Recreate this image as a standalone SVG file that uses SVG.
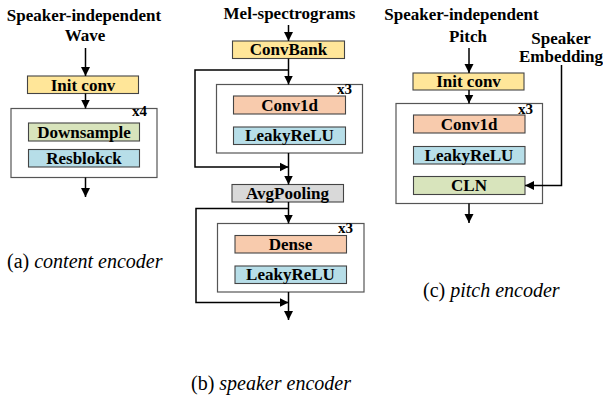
<svg xmlns="http://www.w3.org/2000/svg" width="603" height="398" viewBox="0 0 603 398">
<defs>
<marker id="ah" markerUnits="userSpaceOnUse" markerWidth="10" markerHeight="10" viewBox="0 0 10 10" refX="9" refY="5" orient="auto">
<path d="M0,0.5 L9,5 L0,9.5 Z" fill="#000"/>
</marker>
<style>
.t{font-family:"Liberation Serif","Times New Roman",serif;font-weight:bold;font-size:17px;fill:#000;text-anchor:middle}
.x{font-family:"Liberation Serif","Times New Roman",serif;font-weight:bold;font-size:15px;fill:#000}
.cap{font-family:"Liberation Serif","Times New Roman",serif;font-size:20px;fill:#000}
.cap tspan.i{font-style:italic}
.outer{fill:#fff;stroke:#555;stroke-width:1.2}
.b{stroke:#444;stroke-width:1.1}
.yel{fill:#FFE699}
.grn{fill:#D8E4BC}
.blu{fill:#B7DEE8}
.pch{fill:#F8CBAD}
.gry{fill:#D9D9D9}
.c{fill:none;stroke:#000;stroke-width:1.5}
.a{marker-end:url(#ah)}
</style>
</defs>

<!-- Panel (a) -->
<g id="a-input">
<text class="t" x="84" y="21">Speaker-independent</text>
<text class="t" x="85" y="41">Wave</text>
</g>
<g id="a-initconv">
<rect class="b yel" x="27.5" y="76" width="111" height="17.5"/>
<text class="t" x="83" y="90.5">Init conv</text>
</g>
<g id="a-block">
<rect class="outer" x="11" y="108.5" width="146" height="69"/>
<text class="x" x="132" y="116">x4</text>
</g>
<g id="a-downsample">
<rect class="b grn" x="28.5" y="123" width="111" height="18"/>
<text class="t" x="84" y="137.5">Downsample</text>
</g>
<g id="a-resblock">
<rect class="b blu" x="28.5" y="149.5" width="111" height="17.5"/>
<text class="t" x="84" y="164">Resblokck</text>
</g>
<text class="cap" x="7" y="268">(a) <tspan class="i">content encoder</tspan></text>

<!-- Panel (b) -->
<g id="b-input">
<text class="t" x="289.5" y="18.5">Mel-spectrograms</text>
</g>
<g id="b-convbank">
<rect class="b yel" x="232.5" y="41" width="112" height="17.5"/>
<text class="t" x="288.5" y="55">ConvBank</text>
</g>
<g id="b-block1">
<rect class="outer" x="216.5" y="84.5" width="146" height="68.5"/>
<text class="x" x="337" y="94">x3</text>
</g>
<g id="b-conv1d">
<rect class="b pch" x="233.5" y="96" width="112" height="18"/>
<text class="t" x="289.5" y="110.5">Conv1d</text>
</g>
<g id="b-leaky1">
<rect class="b blu" x="233.5" y="127" width="112" height="17.5"/>
<text class="t" x="289.5" y="141">LeakyReLU</text>
</g>
<g id="b-avgpool">
<rect class="b gry" x="232" y="184.5" width="111.5" height="17.5"/>
<text class="t" x="287.5" y="198.5">AvgPooling</text>
</g>
<g id="b-block2">
<rect class="outer" x="217.5" y="223.5" width="146.5" height="68.5"/>
<text class="x" x="338" y="233">x3</text>
</g>
<g id="b-dense">
<rect class="b pch" x="235" y="235.5" width="111.5" height="17.5"/>
<text class="t" x="290.5" y="249.5">Dense</text>
</g>
<g id="b-leaky2">
<rect class="b blu" x="235" y="266" width="111.5" height="17.5"/>
<text class="t" x="290.5" y="280">LeakyReLU</text>
</g>
<text class="cap" x="191" y="390">(b) <tspan class="i">speaker encoder</tspan></text>

<!-- Panel (c) -->
<g id="c-input">
<text class="t" x="461.5" y="20">Speaker-independent</text>
<text class="t" x="468" y="42">Pitch</text>
</g>
<g id="c-embedding">
<text class="t" x="561" y="44">Speaker</text>
<text class="t" x="561" y="62">Embedding</text>
</g>
<g id="c-initconv">
<rect class="b yel" x="413" y="73" width="111" height="17"/>
<text class="t" x="468.5" y="87">Init conv</text>
</g>
<g id="c-block">
<rect class="outer" x="396" y="103.5" width="146.5" height="100"/>
<text class="x" x="518" y="114">x3</text>
</g>
<g id="c-conv1d">
<rect class="b pch" x="413.5" y="115" width="111.5" height="18"/>
<text class="t" x="469" y="129.5">Conv1d</text>
</g>
<g id="c-leaky">
<rect class="b blu" x="413.5" y="146.5" width="111.5" height="17.5"/>
<text class="t" x="469" y="160.5">LeakyReLU</text>
</g>
<g id="c-cln">
<rect class="b grn" x="413.5" y="176.5" width="111.5" height="18"/>
<text class="t" x="469" y="191">CLN</text>
</g>
<text class="cap" x="423" y="297">(c) <tspan class="i">pitch encoder</tspan></text>

<!-- Connectors -->
<g id="connectors">
<line class="c a" x1="85.5" y1="48" x2="85.5" y2="76"/>
<line class="c a" x1="85.5" y1="93.5" x2="85.5" y2="108.5"/>
<line class="c a" x1="85.5" y1="177.5" x2="85.5" y2="197"/>

<line class="c a" x1="288.5" y1="25" x2="288.5" y2="41"/>
<line class="c a" x1="288.5" y1="58.5" x2="288.5" y2="84.5"/>
<polyline class="c a" points="288.5,70 195,70 195,167 288.5,167"/>
<line class="c a" x1="288.5" y1="153" x2="288.5" y2="184.5"/>
<line class="c a" x1="288.5" y1="202" x2="288.5" y2="223.5"/>
<polyline class="c a" points="288.5,208.5 196,208.5 196,302.5 288.5,302.5"/>
<line class="c a" x1="288.5" y1="292" x2="288.5" y2="320"/>

<line class="c a" x1="469" y1="48" x2="469" y2="73"/>
<line class="c a" x1="469" y1="90" x2="469" y2="103.5"/>
<line class="c a" x1="469" y1="203.5" x2="469" y2="223"/>
<polyline class="c a" points="561.5,65 561.5,185.5 525,185.5"/>
</g>
</svg>
